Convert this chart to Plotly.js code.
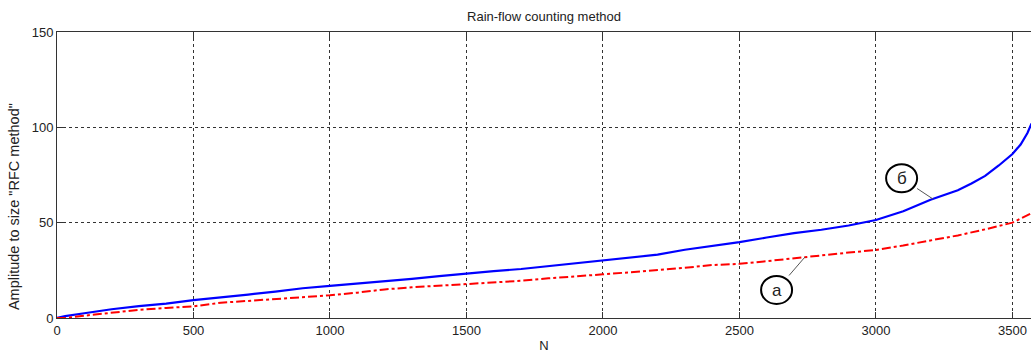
<!DOCTYPE html>
<html>
<head>
<meta charset="utf-8">
<script src="https://cdn.plot.ly/plotly-3.0.1.min.js"></script>
<style>
html,body{margin:0;padding:0;background:#fff;}
#chart{width:1031px;height:356px;}
</style>
</head>
<body>
<div id="chart"></div>
<script>
// Data
const nBlue = [0, 30, 100, 200, 300, 400, 500, 600, 700, 800, 900, 1000, 1100, 1200, 1300, 1400, 1500, 1600, 1700, 1800, 1900, 2000, 2100, 2200, 2300, 2400, 2500, 2600, 2700, 2800, 2900, 3000, 3100, 3200, 3300, 3350, 3400, 3450, 3500, 3530, 3555, 3570];
const ampBlue = [0, 1, 2.5, 4.6, 6.2, 7.5, 9.4, 11, 12.3, 13.8, 15.6, 16.9, 18, 19.3, 20.5, 22, 23.4, 24.6, 25.7, 27.2, 28.8, 30.4, 31.8, 33.2, 35.8, 37.8, 39.8, 42.2, 44.5, 46.3, 48.5, 51.4, 56, 62, 67, 70.5, 74.5, 80, 86, 91, 97, 102];
const nRed = [0, 30, 100, 200, 300, 400, 500, 600, 700, 800, 900, 1000, 1100, 1200, 1300, 1400, 1500, 1600, 1700, 1800, 1900, 2000, 2100, 2200, 2300, 2400, 2500, 2600, 2700, 2800, 2900, 3000, 3100, 3200, 3300, 3400, 3500, 3570];
const ampRed = [0, 0, 1.2, 2.9, 4.3, 5.3, 6.1, 8, 9, 9.9, 10.8, 11.9, 13.3, 15, 16.1, 17, 17.7, 18.8, 19.5, 20.8, 22, 22.9, 24, 25, 26.3, 27.8, 28.4, 29.8, 31.4, 33, 34.3, 35.7, 38, 40.7, 43.3, 46.5, 50, 55];
const xTicks = [0, 500, 1000, 1500, 2000, 2500, 3000, 3500];
const yTicks = [0, 50, 100, 150];
const labelText = ['б', 'а'];
const labelCenterN = [3094, 2636];
const labelCenterAmp = [73.3, 14.7];
const labelTipN = [3209, 2740];
const labelTipAmp = [62.4, 32];

const font = 'Liberation Sans, Arial, sans-serif';

const traces = [
  {x: nBlue, y: ampBlue, mode: 'lines', line: {color: '#0000ff', width: 2.2}, hoverinfo: 'skip'},
  {x: nRed, y: ampRed, mode: 'lines', line: {color: '#ff0000', width: 2, dash: 'dashdot'}, hoverinfo: 'skip'}
];

const annotations = [];
const shapes = [];
for (let i = 0; i < labelText.length; i++) {
  annotations.push({
    x: labelTipN[i], y: labelTipAmp[i], xref: 'x', yref: 'y',
    ax: labelCenterN[i], ay: labelCenterAmp[i], axref: 'x', ayref: 'y',
    text: labelText[i], showarrow: true, arrowhead: 0, arrowwidth: 1, arrowcolor: '#555',
    width: 28, height: 26, font: {family: font, size: 17, color: '#222'}
  });
  shapes.push({
    type: 'circle', xref: 'x', yref: 'y', xsizemode: 'pixel', ysizemode: 'pixel',
    xanchor: labelCenterN[i], yanchor: labelCenterAmp[i],
    x0: -15.5, x1: 15.5, y0: -14, y1: 14,
    line: {color: '#000', width: 2}, fillcolor: 'rgba(0,0,0,0)'
  });
}
annotations.push({
  text: 'Amplitude to size "RFC method"', xref: 'paper', yref: 'paper',
  x: -0.0435, y: 0.39, xanchor: 'center', yanchor: 'middle', textangle: -90,
  showarrow: false, font: {family: font, size: 14.5, color: '#222'}
});

const layout = {
  width: 1031, height: 356,
  margin: {l: 57, r: 0, t: 32, b: 38},
  paper_bgcolor: '#ffffff', plot_bgcolor: '#ffffff',
  showlegend: false,
  title: {text: 'Rain-flow counting method', font: {family: font, size: 13, color: '#222'}, x: 0.5, xref: 'paper', y: 0.955, yanchor: 'middle'},
  xaxis: {
    range: [0, 3568], tickvals: xTicks, ticktext: xTicks.map(String),
    showgrid: true, gridcolor: '#333', griddash: '3px,3px', gridwidth: 1,
    zeroline: false, showline: true, linecolor: '#333', linewidth: 1, mirror: 'ticks',
    ticks: 'inside', ticklen: 6, tickcolor: '#333',
    tickfont: {family: font, size: 13, color: '#222'},
    title: {text: 'N', font: {family: font, size: 13, color: '#222'}, standoff: 4}
  },
  yaxis: {
    range: [0, 150], tickvals: yTicks, ticktext: yTicks.map(String),
    showgrid: true, gridcolor: '#333', griddash: '3px,3px', gridwidth: 1,
    zeroline: false, showline: true, linecolor: '#333', linewidth: 1, mirror: false,
    ticks: 'inside', ticklen: 6, tickcolor: '#333',
    tickfont: {family: font, size: 13, color: '#222'}
  },
  annotations: annotations,
  shapes: shapes
};

Plotly.newPlot('chart', traces, layout, {displayModeBar: false, staticPlot: true});
</script>
</body>
</html>
